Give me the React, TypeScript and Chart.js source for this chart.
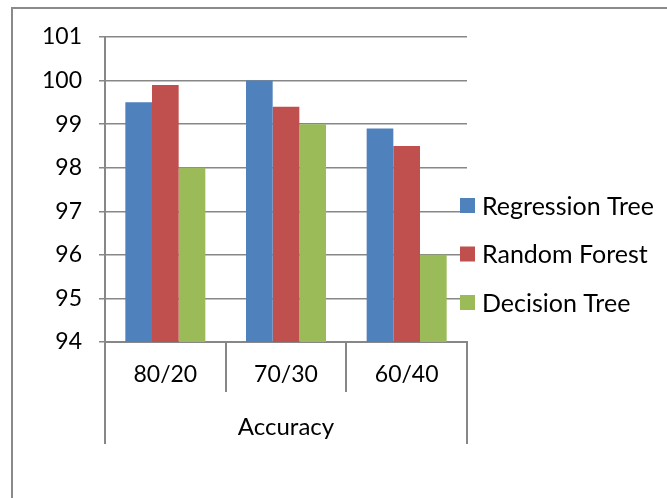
import React, { useEffect, useRef } from "react";
import { Chart, registerables } from "chart.js";

Chart.register(...registerables);

const categories = ["80/20", "70/30", "60/40"];
const groupLabel = "Accuracy";
const seriesNames = ["Regression Tree", "Random Forest", "Decision Tree"];
const regressionTree = [99.5, 100, 98.9];
const randomForest = [99.9, 99.4, 98.5];
const decisionTree = [98, 99, 96];
const seriesColors = ["#4F81BD", "#C0504D", "#9BBB59"];
const yMin = 94;
const yMax = 101;

const FONT = "Lato, 'Open Sans', sans-serif";
const GRID = "#878787";

export default function App() {
  const ref = useRef<HTMLCanvasElement | null>(null);

  useEffect(() => {
    if (!ref.current) return;

    const frame = {
      id: "frame",
      beforeDraw(chart: any) {
        const ctx = chart.ctx;
        ctx.save();
        ctx.fillStyle = "#ffffff";
        ctx.fillRect(0, 0, chart.width, chart.height);
        ctx.strokeStyle = "#8a8a8a";
        ctx.lineWidth = 2;
        ctx.strokeRect(12, 8, chart.width + 20, chart.height + 20);
        ctx.restore();
      },
      afterDraw(chart: any) {
        const ctx = chart.ctx;
        const xs = chart.scales.x;
        const area = chart.chartArea;
        ctx.save();
        // outer group level lines
        ctx.strokeStyle = GRID;
        ctx.lineWidth = 2;
        ctx.beginPath();
        ctx.moveTo(xs.left, area.bottom);
        ctx.lineTo(xs.left, area.bottom + 102);
        ctx.moveTo(xs.right, area.bottom);
        ctx.lineTo(xs.right, area.bottom + 102);
        ctx.stroke();
        // legend
        ctx.font = `25px ${FONT}`;
        ctx.textBaseline = "middle";
        ctx.textAlign = "left";
        chart.data.datasets.forEach((ds: any, i: number) => {
          const cy = 205.5 + i * 48.5;
          ctx.fillStyle = ds.backgroundColor;
          ctx.fillRect(460, cy - 7.5, 15, 15);
          ctx.fillStyle = "#000000";
          ctx.fillText(ds.label, 482, cy + 1);
        });
        ctx.restore();
      },
    };

    const chart = new Chart(ref.current, {
      type: "bar",
      data: {
        labels: categories,
        datasets: [regressionTree, randomForest, decisionTree].map((d, i) => ({
          label: seriesNames[i],
          data: d,
          backgroundColor: seriesColors[i],
          borderWidth: 0,
          categoryPercentage: 0.663,
          barPercentage: 1,
        })),
      },
      options: {
        animation: false,
        responsive: false,
        maintainAspectRatio: false,
        layout: { padding: { left: 0, top: 37, right: 200, bottom: 46 } },
        plugins: {
          legend: { display: false },
          tooltip: { enabled: false },
        },
        scales: {
          x: {
            type: "category",
            offset: true,
            grid: {
              display: true,
              offset: true,
              drawOnChartArea: false,
              drawTicks: true,
              tickLength: 50,
              color: GRID,
              lineWidth: 2,
            },
            border: { display: true, color: GRID, width: 2 },
            ticks: {
              color: "#000000",
              font: { family: FONT, size: 23 },
              padding: -31,
              maxRotation: 0,
            },
            title: {
              display: true,
              text: groupLabel,
              color: "#000000",
              font: { family: FONT, size: 24 },
              padding: { top: 0, bottom: 10 },
            },
            afterFit(scale: any) {
              scale.height = 110;
            },
          },
          y: {
            min: yMin,
            max: yMax,
            ticks: {
              stepSize: 1,
              color: "#000000",
              font: { family: FONT, size: 23 },
              padding: 17,
            },
            grid: {
              color: GRID,
              lineWidth: 1.5,
              tickLength: 6,
            },
            border: { display: true, color: GRID, width: 2 },
            afterFit(scale: any) {
              scale.width = 105;
            },
          },
        },
      },
      plugins: [frame],
    } as any);

    return () => chart.destroy();
  }, []);

  return (
    <div style={{ position: "fixed", left: 0, top: 0, width: 667, height: 498 }}>
      <canvas ref={ref} width={667} height={498} style={{ width: 667, height: 498 }} />
    </div>
  );
}
